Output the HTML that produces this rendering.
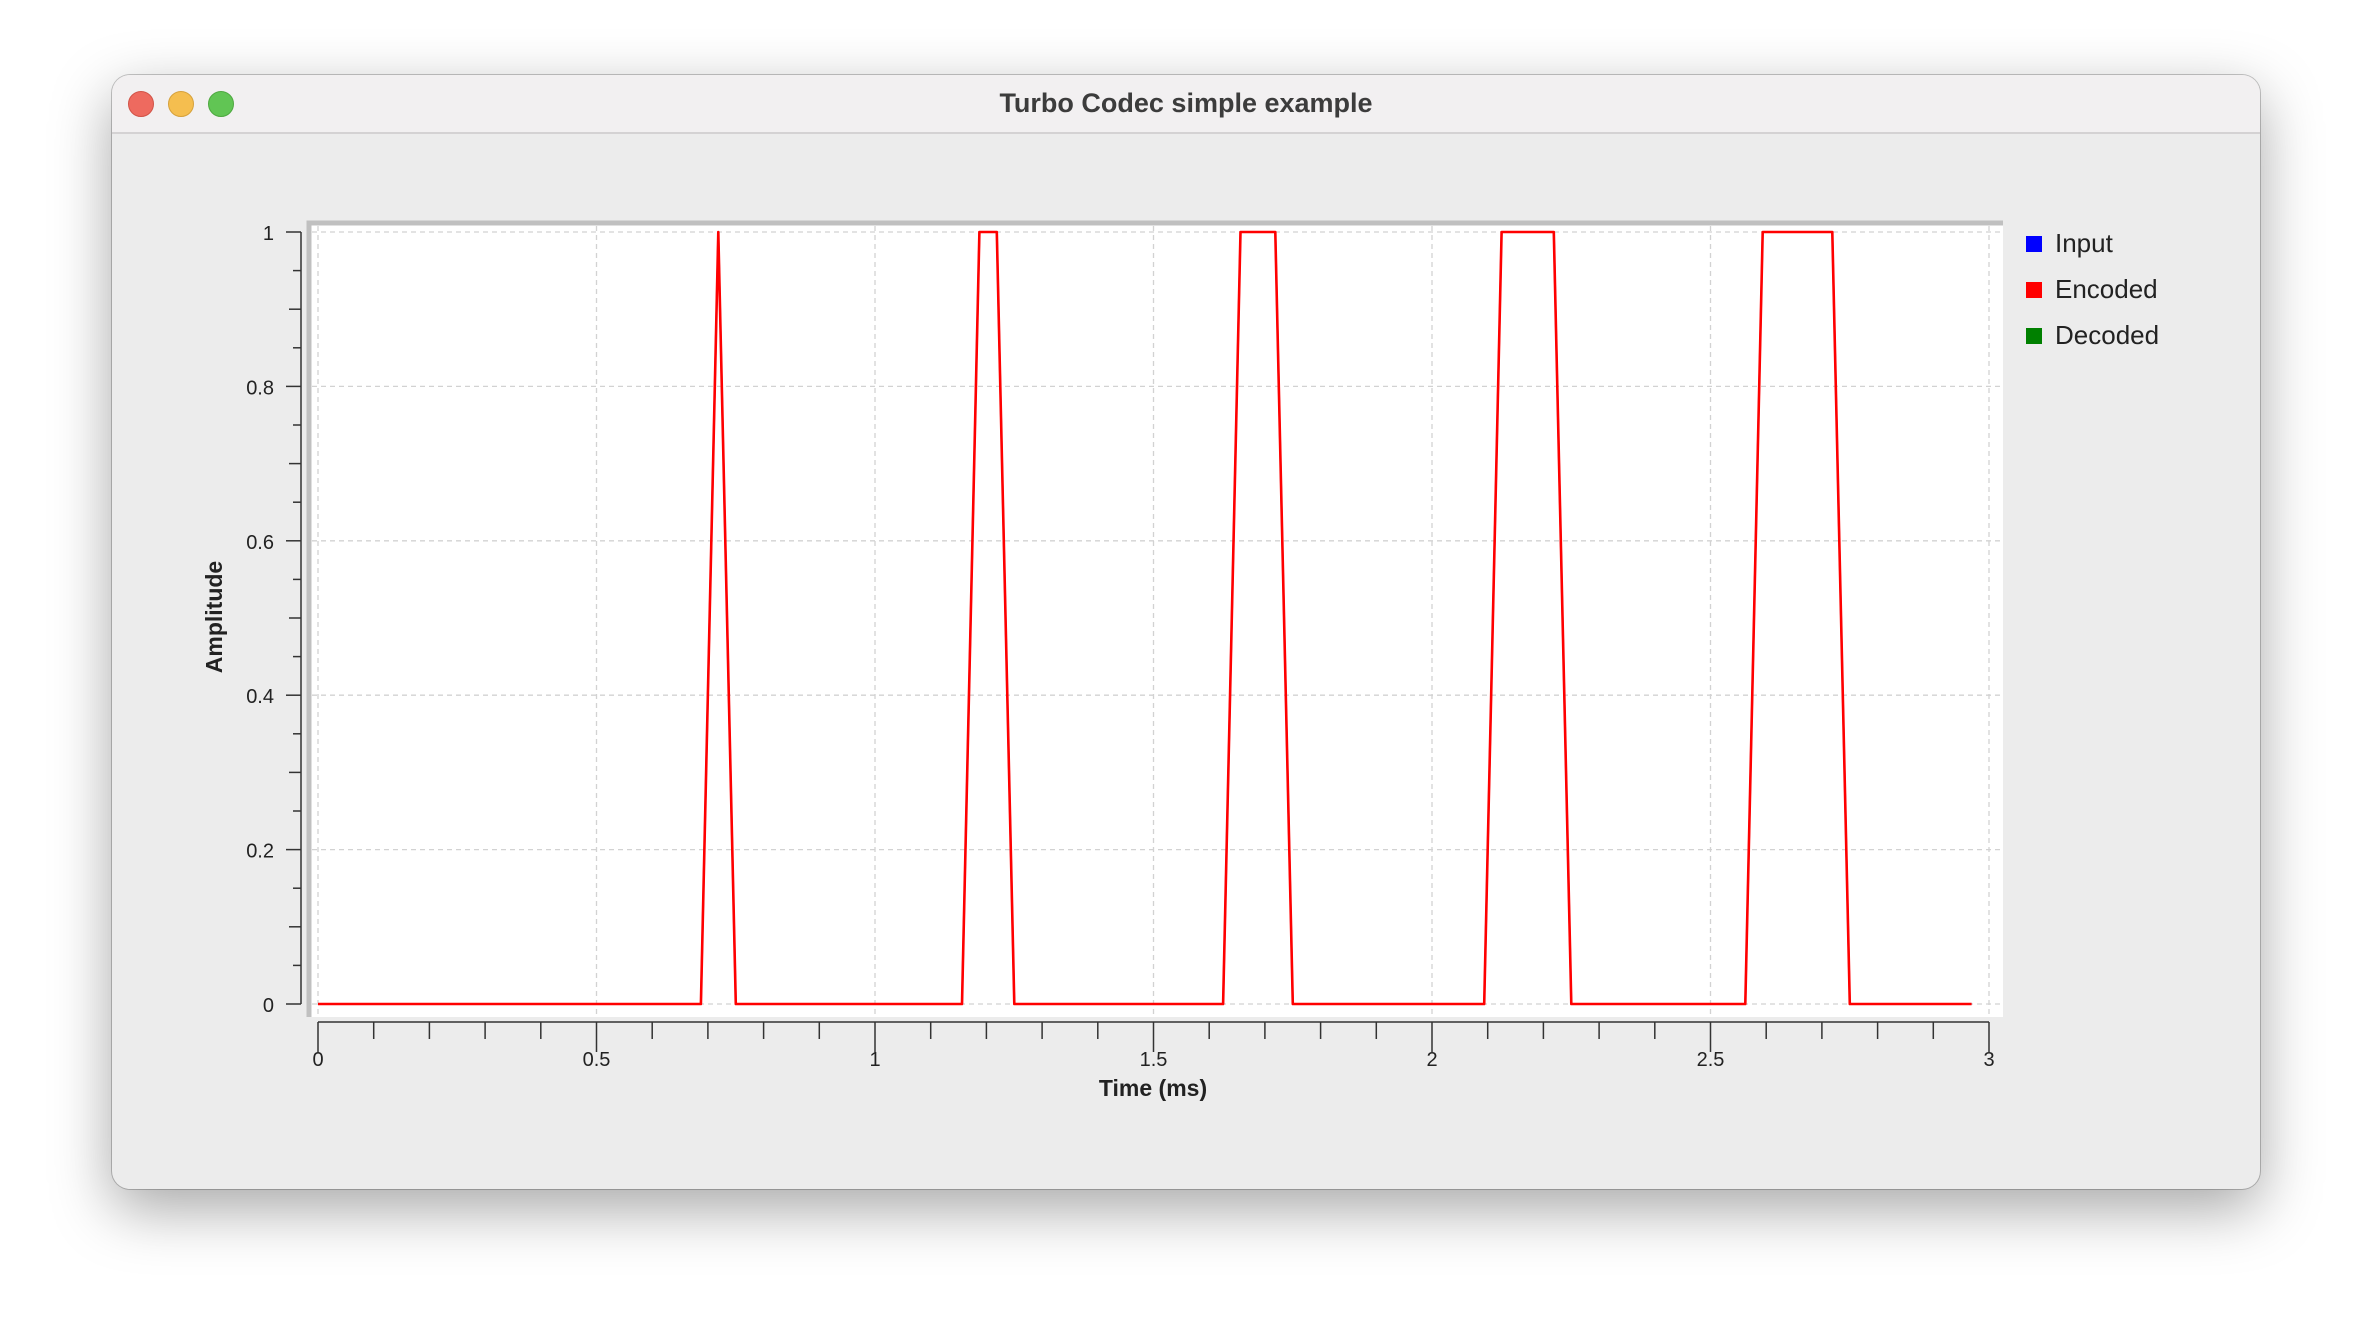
<!DOCTYPE html>
<html><head><meta charset="utf-8"><style>
html,body{margin:0;padding:0;width:2372px;height:1338px;background:#fff;overflow:hidden;font-family:"Liberation Sans",sans-serif}
#win{position:absolute;left:112px;top:75px;width:2148px;height:1114px;background:#ececec;border-radius:18px;box-shadow:0 20px 60px rgba(0,0,0,0.35),0 0 0 1px #c8c8c8;overflow:hidden}
#tb{position:absolute;left:0;top:0;width:100%;height:57px;background:#f2f0f1;border-bottom:2px solid #d4d2d3}
.dot{position:absolute;top:16px;width:24px;height:24px;border-radius:50%}
#title{position:absolute;left:0;width:100%;top:13px;text-align:center;font-weight:bold;font-size:27px;color:#3c3c3c}
svg{position:absolute;left:0;top:0}
</style></head><body>
<div id="win">
 <div id="tb">
  <div class="dot" style="left:16px;background:#ee6a5f;border:1px solid #d15347"></div>
  <div class="dot" style="left:56px;background:#f5be4f;border:1px solid #d6a13b"></div>
  <div class="dot" style="left:96px;background:#61c554;border:1px solid #4ea840"></div>
  <div id="title">Turbo Codec simple example</div>
 </div>
</div>
<svg id="chart" width="2372" height="1338"></svg>
<script>
const times = [];
for (let i = 0; i < 96; i++) times.push(i / 32);
const inputValues = [0,0,0,0,0,0,0,0,0,0,0,0,0,0,0,0,0,0,0,0,0,0,0,1,0,0,0,0,0,0,0,0,0,0,0,0,0,0,1,1,0,0,0,0,0,0,0,0,0,0,0,0,0,1,1,1,0,0,0,0,0,0,0,0,0,0,0,0,1,1,1,1,0,0,0,0,0,0,0,0,0,0,0,1,1,1,1,1,0,0,0,0,0,0,0,0];
const encodedValues = inputValues.slice();
const xTicks = [0,0.5,1,1.5,2,2.5,3];
const xTickLabels = ["0","0.5","1","1.5","2","2.5","3"];
const yTicks = [0,0.2,0.4,0.6,0.8,1];
const yTickLabels = ["0","0.2","0.4","0.6","0.8","1"];
const legendLabels = ["Input","Encoded","Decoded"];
const legendColors = ["#0000ff","#ff0000","#008000"];

const NS="http://www.w3.org/2000/svg";
const svg=document.getElementById('chart');
const X0=318,X1=1989,Y0=1004,Y1=232;
const xs=v=>X0+(v-0)/(3-0)*(X1-X0);
const ys=v=>Y0-(v-0)/(1-0)*(Y0-Y1);
function mk(t,a,p){const e=document.createElementNS(NS,t);for(const k in a)e.setAttribute(k,a[k]);(p||svg).appendChild(e);return e;}

const cv=mk('rect',{x:307,y:221,width:1696,height:796,fill:'#fff'});


mk('path',{d:'M309 1017 L309 223 L2003 223',stroke:'#c0c0c0','stroke-width':5,fill:'none'});

xTicks.forEach(v=>{const g=mk('line',{x1:xs(v),x2:xs(v),y1:226,y2:1016,stroke:'#d2d2d2','stroke-width':1.3,'stroke-dasharray':'5,4'});

});
yTicks.forEach(v=>{const g=mk('line',{x1:312,x2:2000,y1:ys(v),y2:ys(v),stroke:'#d2d2d2','stroke-width':1.3,'stroke-dasharray':'5,4'});

});

mk('line',{x1:301,x2:301,y1:Y1,y2:Y0,stroke:'#333','stroke-width':1.5});
for(let i=0;i<=20;i++){const v=i*0.05;const len=(i%4===0)?15:(i%2===0?12:8);mk('line',{x1:301-len,x2:301,y1:ys(v),y2:ys(v),stroke:'#333','stroke-width':1.5});}
yTicks.forEach((v,i)=>{const t=mk('text',{x:274,y:ys(v)+8,'text-anchor':'end','font-size':20,fill:'#222'});t.textContent=yTickLabels[i];

});
const yt=mk('text',{x:222,y:617,'text-anchor':'middle','font-size':23,'font-weight':'bold',fill:'#222',transform:'rotate(-90 222 617)'});yt.textContent='Amplitude';



mk('line',{x1:X0,x2:X1,y1:1022,y2:1022,stroke:'#333','stroke-width':1.5});
for(let i=0;i<=30;i++){const v=i*0.1;const len=(i%5===0)?30:17;mk('line',{x1:xs(v),x2:xs(v),y1:1022,y2:1022+len,stroke:'#333','stroke-width':1.5});}
xTicks.forEach((v,i)=>{const t=mk('text',{x:xs(v),y:1066,'text-anchor':'middle','font-size':20,fill:'#222'});t.textContent=xTickLabels[i];

});
const xt=mk('text',{x:1153,y:1096,'text-anchor':'middle','font-size':23,'font-weight':'bold',fill:'#222'});xt.textContent='Time (ms)';



function line(vals,color,w,name){const d=vals.map((v,i)=>(i?'L':'M')+xs(times[i]).toFixed(1)+' '+ys(v).toFixed(1)).join(' ');
const p=mk('path',{d:d,stroke:color,'stroke-width':w,fill:'none','stroke-linejoin':'round'});

}
line(inputValues,'#5a3cc8',2,'input-series');
line(encodedValues,'#ff0000',2.6,'encoded-series');

legendLabels.forEach((l,i)=>{const y=236+i*46;
const r=mk('rect',{x:2026,y:y,width:16,height:16,fill:legendColors[i]});


const t=mk('text',{x:2055,y:y+16,'font-size':26,fill:'#222'});t.textContent=l;

});
</script>
</body></html>
